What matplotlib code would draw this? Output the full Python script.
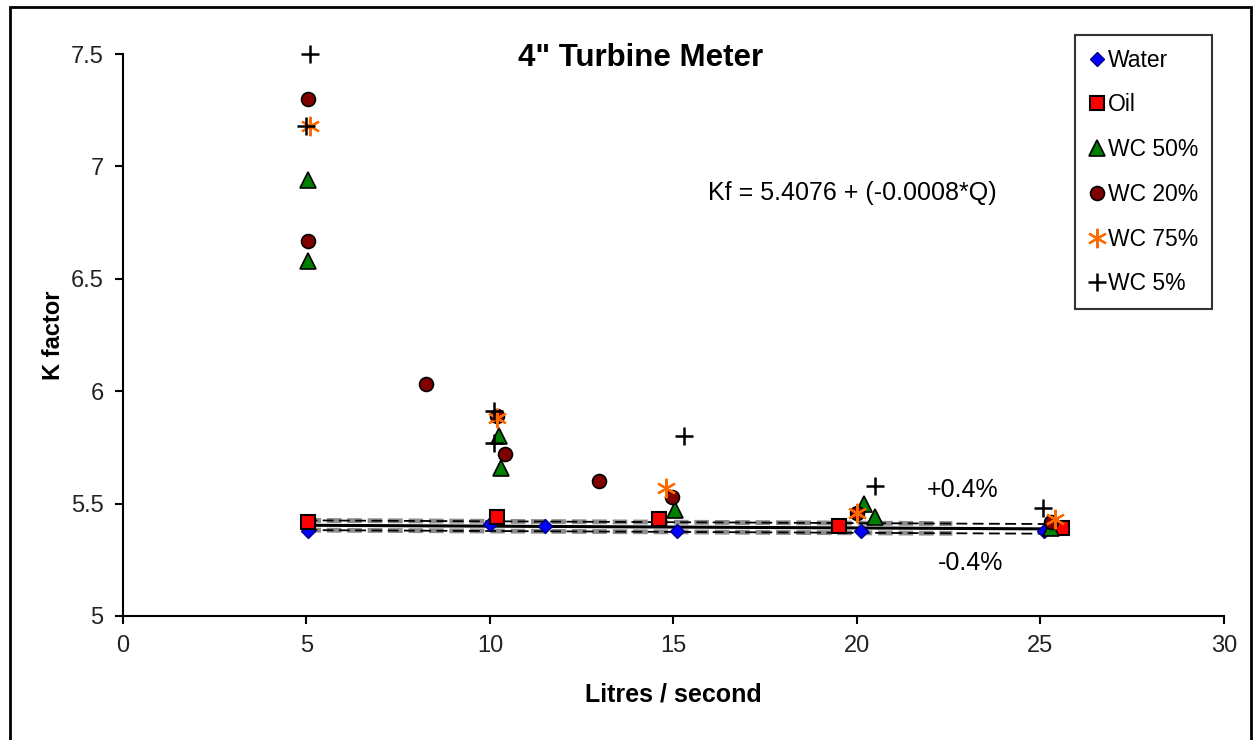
import numpy as np
import matplotlib
matplotlib.use("Agg")
import matplotlib.pyplot as plt
from matplotlib.patches import Rectangle

plt.rcParams["font.family"] = ["Liberation Sans", "DejaVu Sans"]

# flow rate (L/s) and K factor per fluid
water_q = [5.04, 10.0, 11.5, 15.1, 20.1, 25.1]
water_k = [5.38, 5.41, 5.40, 5.38, 5.38, 5.38]

oil_q = [5.04, 10.2, 14.6, 19.5, 25.6]
oil_k = [5.42, 5.44, 5.43, 5.40, 5.39]

wc50_q = [5.04, 5.04, 10.25, 10.3, 15.05, 20.2, 20.5, 25.3]
wc50_k = [6.94, 6.58, 5.80, 5.66, 5.47, 5.50, 5.44, 5.39]

wc20_q = [5.04, 5.04, 8.25, 10.2, 10.4, 12.97, 14.96, 20.0, 25.3]
wc20_k = [7.30, 6.67, 6.03, 5.89, 5.72, 5.60, 5.53, 5.46, 5.42]

wc75_q = [5.1, 10.2, 14.8, 20.0, 25.4]
wc75_k = [7.18, 5.88, 5.57, 5.46, 5.43]

wc5_q = [5.1, 5.0, 10.1, 10.1, 15.3, 20.5, 25.07]
wc5_k = [7.50, 7.18, 5.91, 5.77, 5.80, 5.58, 5.48]

# fit Kf = a + b*Q and the +/-0.4% band
fit_a = 5.4076
fit_b = -0.0008
band = 0.004
fit_range = [5.0, 25.6]
grey_band_range = [5.0, 22.6]

fig = plt.figure(figsize=(12.56, 7.40), dpi=100)
ax = fig.add_axes([0.0979, 0.1676, 0.8766, 0.7594])

q = np.linspace(*fit_range, 50)
kf = fit_a + fit_b * q
qg = np.linspace(*grey_band_range, 50)
kg = fit_a + fit_b * qg
for s in (1 + band, 1 - band):
    ax.plot(qg, kg * s, color="#8c8c8c", lw=3.5, ls=(0, (3, 1.2)), zorder=2)
    ax.plot(q, kf * s, color="black", lw=1.3, ls=(0, (6, 3)), zorder=2)
ax.plot(q, kf, color="black", lw=2.2, zorder=3)

ax.plot(water_q, water_k, ls="none", marker="D", ms=7, color="#0000ff",
        mec="#000080", mew=1, label="Water", zorder=4)
ax.plot(oil_q, oil_k, ls="none", marker="s", ms=10, color="#ff0000",
        mec="black", mew=1.5, label="Oil", zorder=4)
ax.plot(wc50_q, wc50_k, ls="none", marker="^", ms=11, color="#008000",
        mec="black", mew=1.2, label="WC 50%", zorder=5)
ax.plot(wc20_q, wc20_k, ls="none", marker="o", ms=10, color="#800000",
        mec="black", mew=1.2, label="WC 20%", zorder=5)
ax.plot(wc75_q, wc75_k, ls="none", marker=(6, 2, 0), ms=14, color="#ff6a00",
        mew=1.6, label="WC 75%", zorder=6)
ax.plot(wc5_q, wc5_k, ls="none", marker="+", ms=13, color="black",
        mew=1.8, label="WC 5%", zorder=6, clip_on=False)

ax.set_xlim(0, 30)
ax.set_ylim(5, 7.5)
ax.set_xticks(range(0, 31, 5))
ax.set_yticks([5, 5.5, 6, 6.5, 7, 7.5])
ax.set_yticklabels(["5", "5.5", "6", "6.5", "7", "7.5"])
ax.tick_params(direction="out", length=6, width=1.5, labelsize=17, pad=8,
               labelcolor="#222222")
for side in ("top", "right"):
    ax.spines[side].set_visible(False)
for side in ("left", "bottom"):
    ax.spines[side].set_linewidth(1.5)

ax.set_xlabel("Litres / second", fontsize=18, fontweight="bold", labelpad=18)
ax.set_ylabel("K factor", fontsize=17, fontweight="bold", labelpad=4)
fig.text(0.510, 0.922, "4\" Turbine Meter", fontsize=22.5, fontweight="bold",
         ha="center", va="center")

ax.text(15.94, 6.88, "Kf = 5.4076 + (-0.0008*Q)", fontsize=18, va="center")
ax.text(21.9, 5.56, "+0.4%", fontsize=18, va="center")
ax.text(22.2, 5.236, "-0.4%", fontsize=18, va="center")

leg = ax.legend(loc="upper left", bbox_to_anchor=(0.856, 0.953),
                bbox_transform=fig.transFigure, fontsize=16.5, frameon=True,
                fancybox=False, edgecolor="black", handlelength=0.7,
                handletextpad=0.15, labelspacing=0.95, borderpad=0.6,
                borderaxespad=0)
leg.get_frame().set_linewidth(1.5)

fig.patches.append(Rectangle((10 / 1256, -0.05), 1241 / 1256, 1.05 - 7 / 740,
                             transform=fig.transFigure, fill=False,
                             edgecolor="black", lw=2))

fig.savefig("out.png", dpi=100)
